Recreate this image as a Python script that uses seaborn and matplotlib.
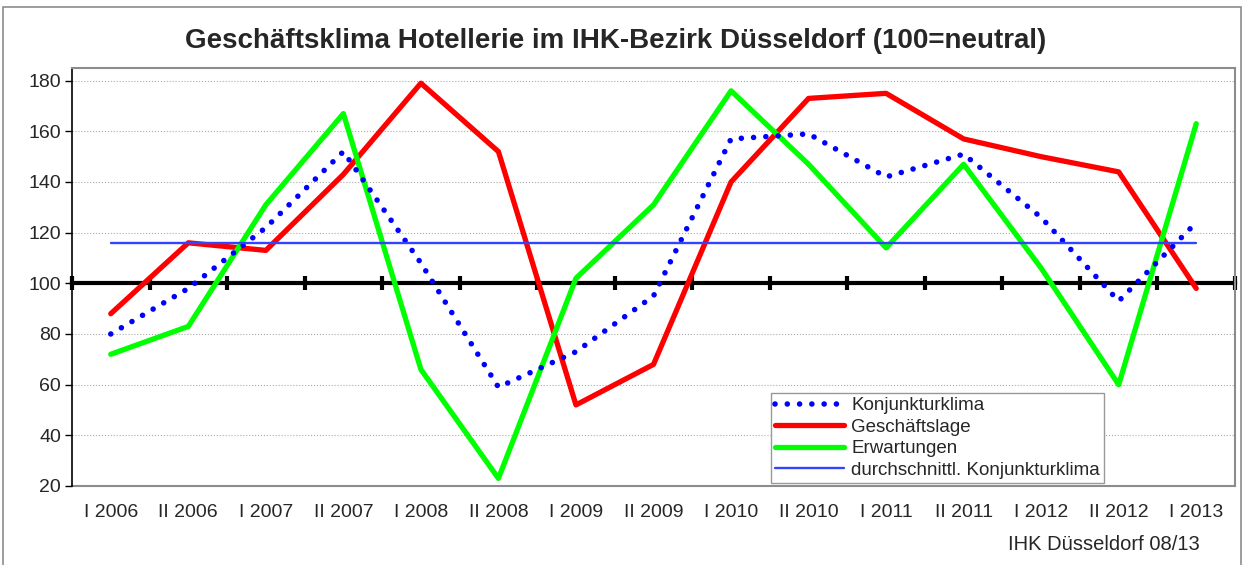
import numpy as np
import pandas as pd
import matplotlib
matplotlib.use("Agg")
import matplotlib.pyplot as plt
import matplotlib.patches as patches
import seaborn as sns

categories = ["I 2006", "II 2006", "I 2007", "II 2007", "I 2008", "II 2008", "I 2009",
              "II 2009", "I 2010", "II 2010", "I 2011", "II 2011", "I 2012", "II 2012", "I 2013"]
konjunkturklima = [80, 98, 122, 152, 108, 59, 73, 95, 157, 159, 142, 151, 126, 93, 124]
geschaeftslage = [88, 116, 113, 143, 179, 152, 52, 68, 140, 173, 175, 157, 150, 144, 98]
erwartungen = [72, 83, 131, 167, 66, 23, 102, 131, 176, 147, 114, 147, 106, 60, 163]
durchschnitt = 116
neutral = 100

sns.set_style("white")
plt.rcParams["font.family"] = ["Liberation Sans", "DejaVu Sans"]

df = pd.DataFrame({
    "pos": np.arange(len(categories)),
    "Konjunkturklima": konjunkturklima,
    "Geschäftslage": geschaeftslage,
    "Erwartungen": erwartungen,
    "durchschnittl. Konjunkturklima": durchschnitt,
})

fig = plt.figure(figsize=(12.46, 5.65), dpi=100)
ax = fig.add_axes([72 / 1246, 1 - 486 / 565, (1235 - 72) / 1246, (486 - 68) / 565])

# Achse bei 100 (neutral) als dicke schwarze Linie mit Teilstrichen
ax.spines["bottom"].set_position(("data", neutral))
ax.spines["bottom"].set_color("black")
ax.spines["bottom"].set_linewidth(3)
ax.spines["bottom"].set_zorder(1.5)
ax.set_xticks(np.arange(len(categories) + 1) - 0.5)
ax.tick_params(axis="x", direction="inout", length=10, width=3, color="black",
               bottom=True, labelbottom=False)

ax.spines["left"].set_color("black")
ax.spines["left"].set_linewidth(1.2)
for s in ["top", "right"]:
    ax.spines[s].set_color("#8c8c8c")
    ax.spines[s].set_linewidth(1.5)

sns.lineplot(data=df, x="pos", y="Geschäftslage", color="#ff0000", lw=3.8,
             solid_capstyle="round", label="Geschäftslage", ax=ax, zorder=3)
sns.lineplot(data=df, x="pos", y="Erwartungen", color="#00ff00", lw=3.8,
             solid_capstyle="round", label="Erwartungen", ax=ax, zorder=3)
sns.lineplot(data=df, x="pos", y="Konjunkturklima", color="#0000ff", lw=4.0,
             linestyle=(0, (0.01, 2.2)), dash_capstyle="round",
             label="Konjunkturklima", ax=ax, zorder=4)
sns.lineplot(data=df, x="pos", y="durchschnittl. Konjunkturklima", color="#3344ff",
             lw=1.7, label="durchschnittl. Konjunkturklima", ax=ax, zorder=4)

ax.set_xlim(-0.5, len(categories) - 0.5)
ax.set_ylim(20, 185)
ax.set_yticks(np.arange(20, 181, 20))
ax.yaxis.grid(True, linestyle=":", color="#aaaaaa", lw=0.8)
ax.tick_params(axis="y", direction="out", length=5, width=1, color="black",
               labelsize=14, pad=3, left=True)
ax.set_xlabel("")
ax.set_ylabel("")

# Kategorien unten am Rahmen
sec = ax.secondary_xaxis(0)
sec.set_xticks(np.arange(len(categories)), labels=categories)
sec.tick_params(length=0, labelsize=14, pad=13)
sec.spines["bottom"].set_color("#8c8c8c")
sec.spines["bottom"].set_linewidth(1.5)

handles, labels = ax.get_legend_handles_labels()
order = [labels.index(l) for l in ["Konjunkturklima", "Geschäftslage", "Erwartungen",
                                   "durchschnittl. Konjunkturklima"]]
leg = ax.legend([handles[i] for i in order], [labels[i] for i in order],
                loc="lower left", bbox_to_anchor=(0.601, 0.008), fontsize=13.5,
                handlelength=3.7, labelspacing=0.23, borderpad=0.22,
                handletextpad=0.35, borderaxespad=0, fancybox=False, framealpha=1,
                edgecolor="#999999")
leg.get_frame().set_linewidth(1)

fig.text(0.494, 1 - 41 / 565, "Geschäftsklima Hotellerie im IHK-Bezirk Düsseldorf (100=neutral)",
         ha="center", va="center", fontsize=20, fontweight="bold")
fig.text(1200 / 1246, 1 - 545 / 565, "IHK Düsseldorf 08/13", ha="right", va="center",
         fontsize=14.5)

fig.patches.append(patches.Rectangle((3 / 1246, -0.01), 1238 / 1246, 1 - 7 / 565 + 0.01,
                                     transform=fig.transFigure, fill=False,
                                     edgecolor="#8c8c8c", lw=1.2))

fig.savefig("out.png", dpi=100)
